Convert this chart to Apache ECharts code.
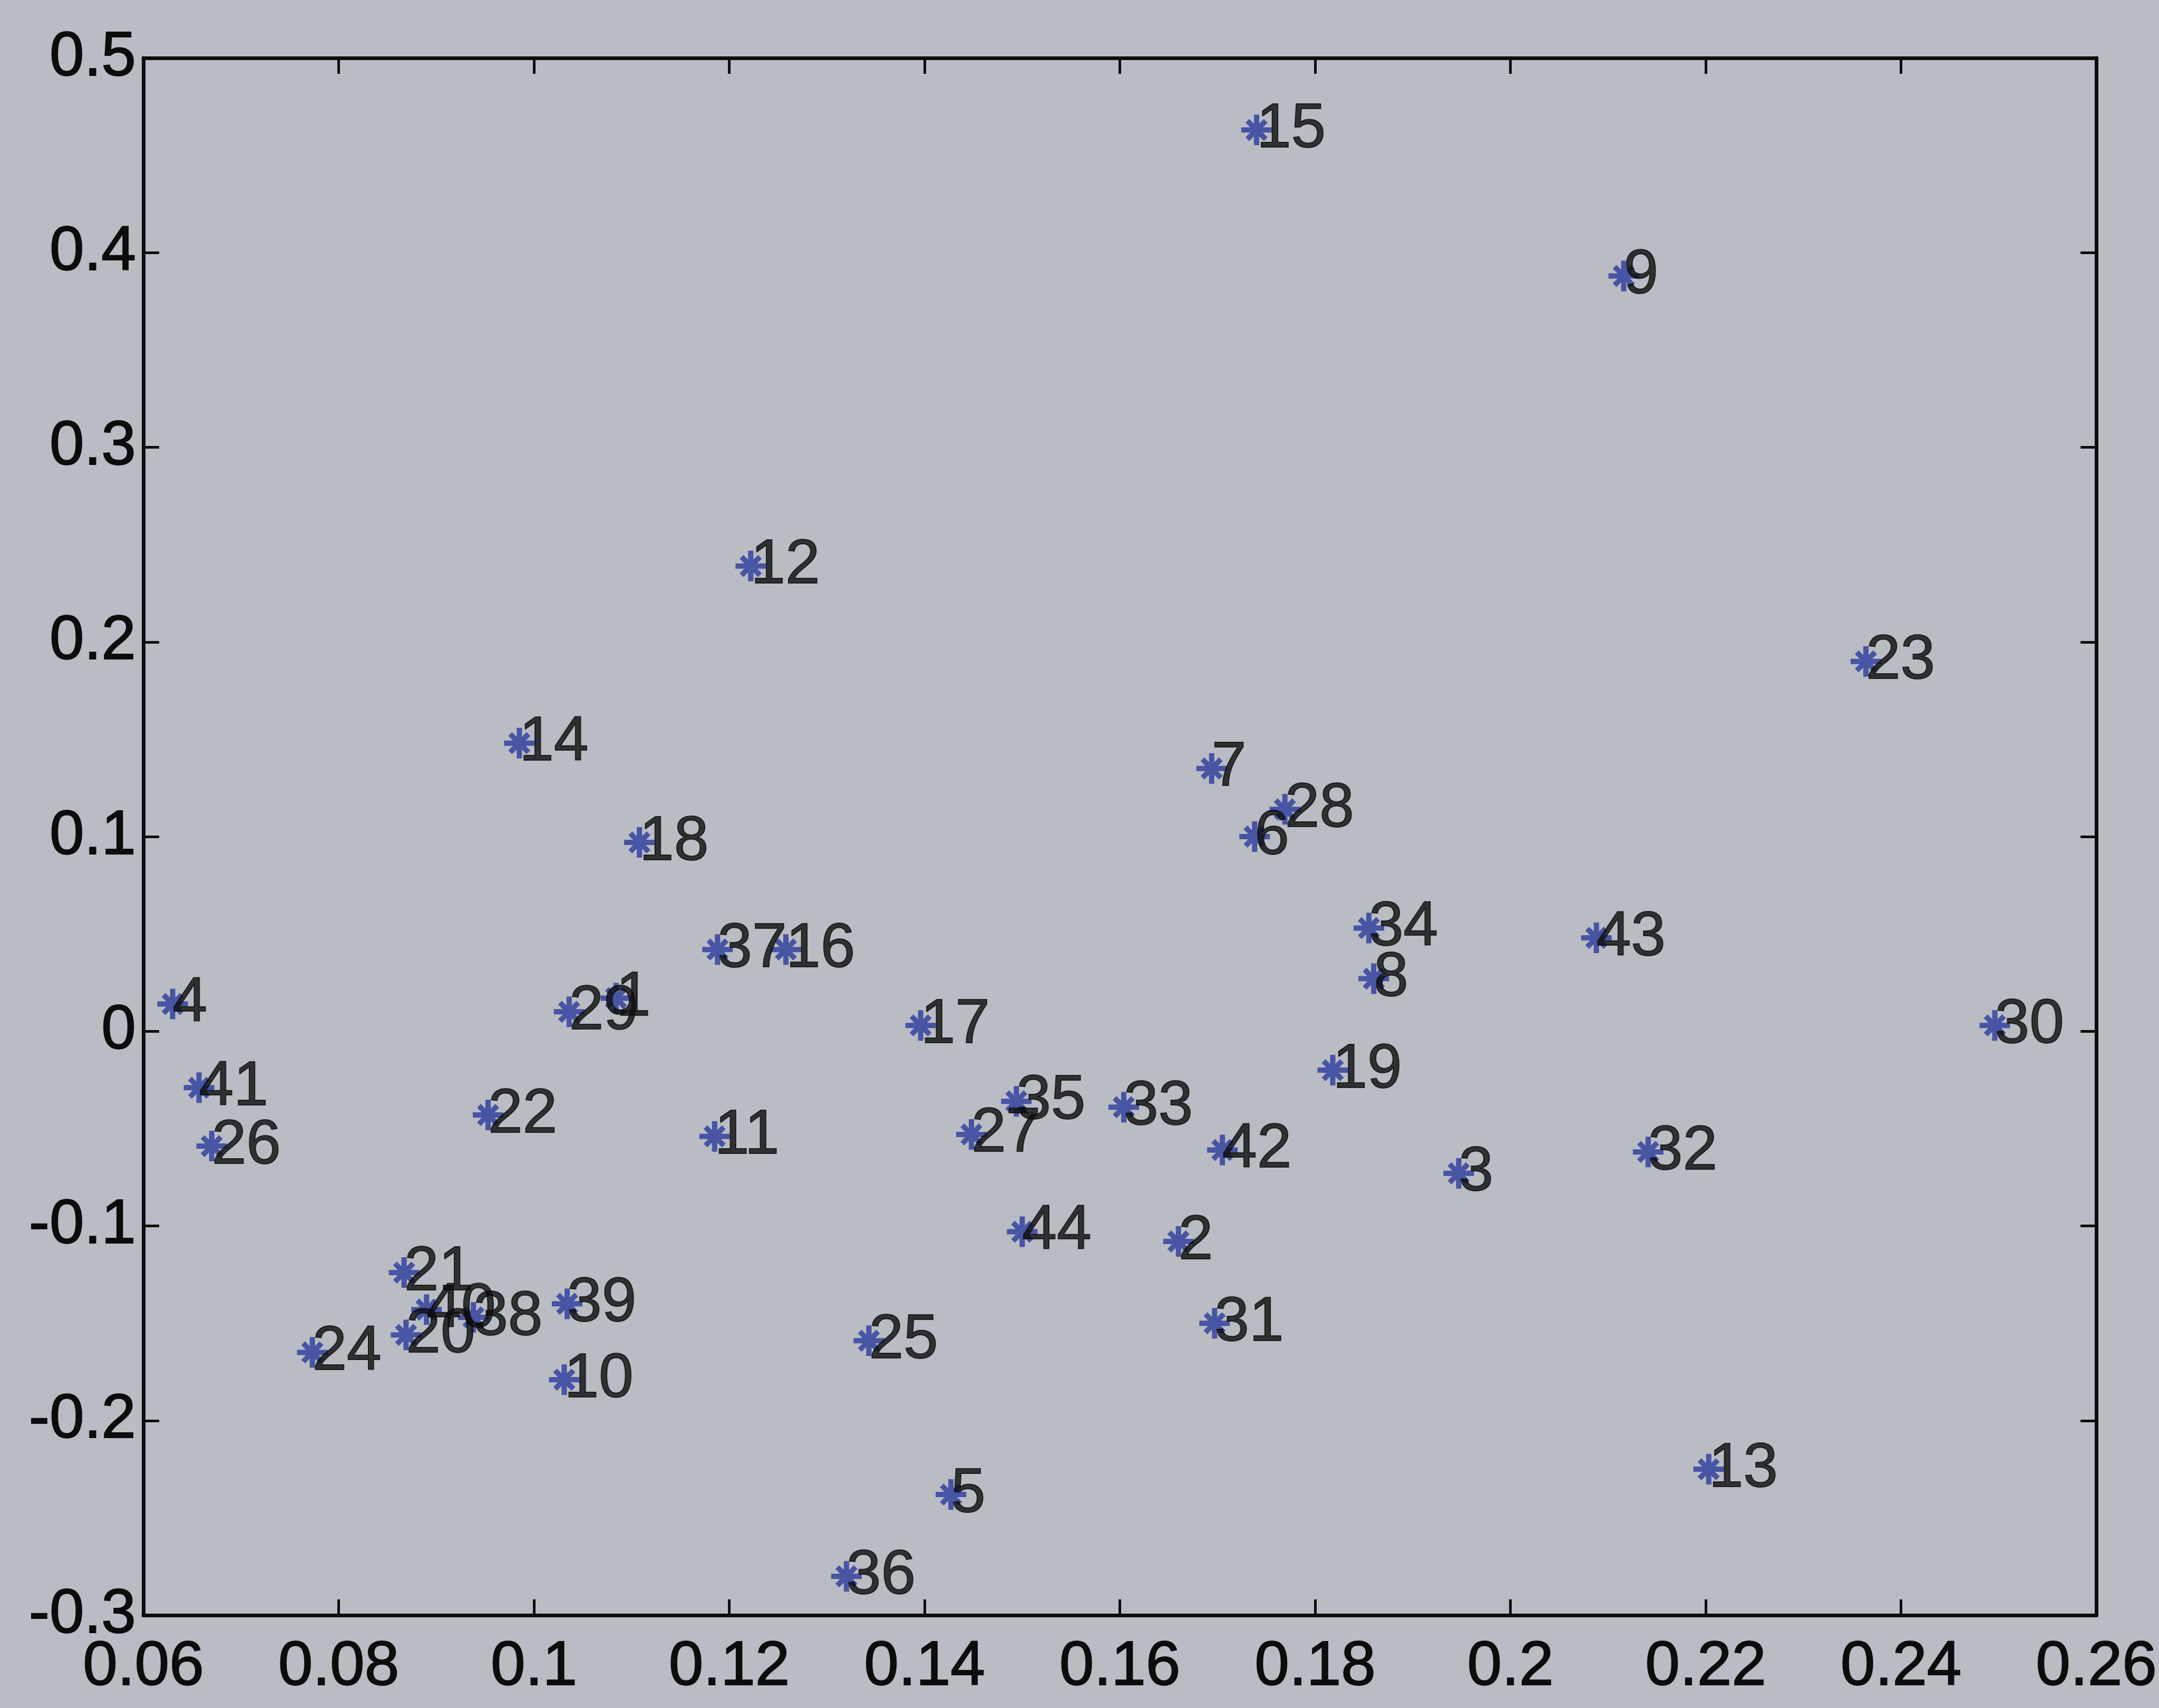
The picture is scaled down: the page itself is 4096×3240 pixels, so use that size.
<!DOCTYPE html>
<html>
<head>
<meta charset="utf-8">
<script src="https://cdn.jsdelivr.net/npm/echarts@6/dist/echarts.min.js"></script>
<style>
html,body{margin:0;padding:0;background:#b9bcc3;}
#chart{width:4096px;height:3240px;}
</style>
</head>
<body>
<div id="chart"></div>
<script>
// point numbers and their coordinates
var pointIds = ['1','2','3','4','5','6','7','8','9','10','11','12','13','14','15','16','17','18','19','20','21','22',
    '23','24','25','26','27','28','29','30','31','32','33','34','35','36','37','38','39','40','41','42','43','44'];
var xValues = [0.1084,0.166,0.1947,0.063,0.1427,0.1738,0.1694,0.186,0.2116,0.1031,0.1185,0.1222,0.2203,0.0985,0.174,
    0.1258,0.1396,0.1108,0.1818,0.0869,0.0867,0.0953,0.2364,0.0773,0.1343,0.067,0.1448,0.1769,0.1036,0.2496,0.1697,
    0.2141,0.1604,0.1855,0.1494,0.132,0.1188,0.0938,0.1034,0.089,0.0657,0.1705,0.2088,0.150];
var yValues = [0.017,-0.108,-0.073,0.014,-0.238,0.100,0.135,0.027,0.388,-0.179,-0.054,0.239,-0.225,0.148,0.463,
    0.042,0.003,0.097,-0.020,-0.156,-0.124,-0.043,0.190,-0.165,-0.159,-0.059,-0.053,0.114,0.010,0.003,-0.150,
    -0.062,-0.039,0.053,-0.036,-0.280,0.042,-0.147,-0.140,-0.143,-0.029,-0.061,0.048,-0.103];
var xTickLabels = ['0.06','0.08','0.1','0.12','0.14','0.16','0.18','0.2','0.22','0.24','0.26'];
var yTickLabels = ['-0.3','-0.2','-0.1','0','0.1','0.2','0.3','0.4','0.5'];

var pts = [];
for (var i = 0; i < pointIds.length; i++) {
    pts.push([xValues[i], yValues[i], pointIds[i]]);
}

var fontName = 'Liberation Sans';
var lineCol = '#0c0c0c';

function xLab(v) {
    var k = Math.round((v - 0.06) / 0.02);
    return xTickLabels[k] !== undefined ? xTickLabels[k] : '';
}
function yLab(v) {
    var k = Math.round((v + 0.3) / 0.1);
    return yTickLabels[k] !== undefined ? yTickLabels[k] : '';
}

var baseX = {
    type: 'value', min: 0.06, max: 0.26, interval: 0.02,
    axisLine: {show: true, onZero: false, lineStyle: {color: lineCol, width: 7}},
    axisTick: {show: true, inside: true, length: 30, lineStyle: {color: lineCol, width: 5}},
    splitLine: {show: false}
};
var baseY = {
    type: 'value', min: -0.3, max: 0.5, interval: 0.1,
    axisLine: {show: true, onZero: false, lineStyle: {color: lineCol, width: 7}},
    axisTick: {show: true, inside: true, length: 30, lineStyle: {color: lineCol, width: 5}},
    splitLine: {show: false}
};
var tickText = {show: true, fontSize: 118, fontFamily: fontName, color: lineCol,
    textBorderColor: lineCol, textBorderWidth: 2};

var myChart = echarts.init(document.getElementById('chart'));
var option = {
    backgroundColor: '#b9bcc3',
    animation: false,
    grid: {left: 272, right: 104, top: 110, bottom: 176},
    xAxis: [
        Object.assign({}, baseX, {
            position: 'bottom',
            axisLabel: Object.assign({margin: 40, formatter: xLab}, tickText)
        }),
        Object.assign({}, baseX, {position: 'top', axisLabel: {show: false}})
    ],
    yAxis: [
        Object.assign({}, baseY, {
            position: 'left',
            axisLabel: Object.assign({margin: 14, formatter: yLab}, tickText)
        }),
        Object.assign({}, baseY, {position: 'right', axisLabel: {show: false}})
    ],
    series: [{
        type: 'scatter',
        xAxisIndex: 0,
        yAxisIndex: 0,
        data: pts,
        symbol: 'path://M50,0L50,100M0,50L100,50M20,20L80,80M20,80L80,20',
        symbolSize: 58,
        itemStyle: {color: 'none', borderColor: '#2c3a9c', borderWidth: 10},
        label: {
            show: true,
            position: ['50%', '50%'],
            align: 'left',
            verticalAlign: 'middle',
            offset: [10, 4],
            fontSize: 118,
            fontFamily: fontName,
            color: '#0c0c0c',
            textBorderColor: '#0c0c0c',
            textBorderWidth: 2,
            formatter: function (p) { return p.value[2]; }
        },
        labelLayout: {hideOverlap: false}
    }]
};
myChart.setOption(option);
</script>
</body>
</html>
